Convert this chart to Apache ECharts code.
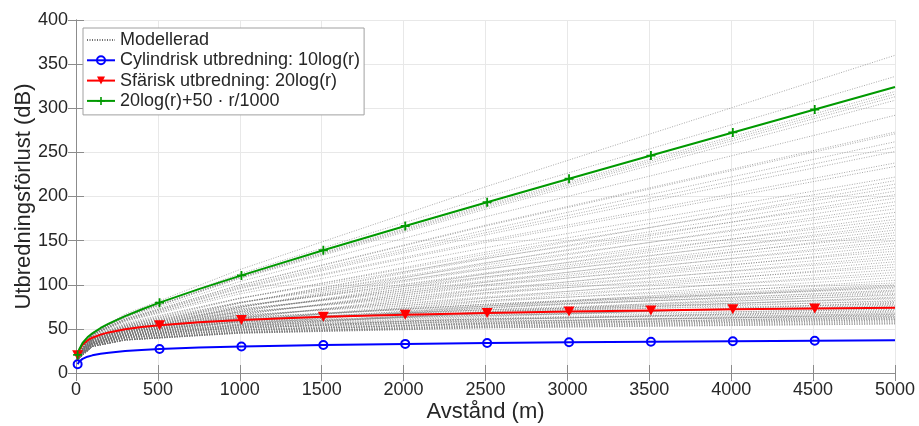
<!DOCTYPE html>
<html><head><meta charset="utf-8">
<script src="https://cdn.jsdelivr.net/npm/echarts@6/dist/echarts.min.js"></script>
<style>html,body{margin:0;padding:0;background:#fff}#c{width:919px;height:426px}</style>
</head><body><div id="c"></div>
<script>
// Distance samples (m) for the three reference curves
const curveX = [10, 20, 40, 70, 100, 150, 200, 300, 400, 510, 750, 1010, 1510, 2010, 2510, 3010, 3510, 4010, 4510, 5000];
const cylindricalY = [10, 13.0, 16.0, 18.5, 20, 21.8, 23.0, 24.8, 26.0, 27.1, 28.8, 30.0, 31.8, 33.0, 34.0, 34.8, 35.5, 36.0, 36.5, 37.0];
const sphericalY = [20, 26.0, 32.0, 36.9, 40, 43.5, 46.0, 49.5, 52.0, 54.2, 57.5, 60.1, 63.6, 66.1, 68.0, 69.6, 70.9, 72.1, 73.1, 74.0];
const absorptionY = [20.5, 27.0, 34.0, 40.4, 45.0, 51.0, 56.0, 64.5, 72.0, 79.7, 95.0, 110.6, 139.1, 166.6, 193.5, 220.1, 246.4, 272.6, 298.6, 324.0];
const markerX = [10, 510, 1010, 1510, 2010, 2510, 3010, 3510, 4010, 4510];

// Modelled curves (grey), sampled at modelX
const modelX = [10, 100, 300, 1000, 2500, 5000];
const modelLines = [
  [20.6, 45.7, 66.7, 117.2, 211.0, 360],
  [20.5, 45.2, 65.2, 112.4, 199.0, 336],
  [20.5, 44.9, 64.2, 109.0, 190.5, 319],
  [20.5, 44.8, 64.0, 108.4, 189.0, 316],
  [20.5, 44.8, 63.8, 107.8, 187.5, 313],
  [20.5, 44.7, 63.6, 107.0, 185.5, 309],
  [20.4, 44.4, 62.6, 103.6, 177.0, 292],
  [20.4, 44.0, 61.4, 99.8, 167.5, 273],
  [20.4, 43.9, 61.3, 99.4, 166.5, 271],
  [20.4, 43.8, 60.8, 97.6, 162.0, 262],
  [20.4, 43.6, 60.4, 96.4, 159.0, 256],
  [20.4, 43.5, 60.1, 95.4, 156.5, 251],
  [20.3, 43.3, 59.3, 92.8, 150.0, 238],
  [20.3, 43.2, 59.1, 92.0, 148.0, 234],
  [20.3, 43.0, 58.4, 89.6, 142.0, 222],
  [18.3, 39.0, 53.7, 84.3, 136.9, 218],
  [16.3, 35.1, 48.9, 79.0, 131.8, 214],
  [19.3, 40.8, 55.5, 84.9, 134.5, 210],
  [17.3, 36.9, 50.7, 79.6, 129.4, 206],
  [15.3, 32.9, 46.0, 74.3, 124.3, 202],
  [20.2, 42.5, 56.9, 84.8, 130.0, 198],
  [18.3, 38.5, 52.2, 79.5, 124.9, 194],
  [16.3, 34.6, 47.4, 74.2, 119.8, 190],
  [19.2, 40.3, 54.0, 80.1, 122.5, 186],
  [17.2, 36.4, 49.2, 74.8, 117.4, 182],
  [15.2, 32.5, 44.6, 69.5, 112.3, 178],
  [20.2, 42.0, 55.5, 80.0, 118.0, 174],
  [18.2, 38.1, 50.9, 74.9, 113.4, 171],
  [16.2, 34.2, 46.1, 69.8, 108.8, 168],
  [19.2, 39.9, 52.8, 75.9, 112.0, 165],
  [17.2, 36.0, 48.0, 70.8, 107.4, 162],
  [15.2, 32.1, 43.4, 65.7, 102.8, 159],
  [20.2, 41.6, 54.4, 76.4, 109.0, 156],
  [18.2, 37.7, 49.8, 71.3, 104.4, 153],
  [16.2, 33.8, 45.0, 66.2, 99.8, 150],
  [19.2, 39.5, 51.7, 72.3, 103.0, 147],
  [17.2, 35.6, 47.0, 67.2, 98.4, 144],
  [15.2, 31.7, 42.3, 62.1, 93.8, 141],
  [20.1, 41.3, 53.3, 72.8, 100.0, 138],
  [18.1, 37.4, 48.7, 67.7, 95.4, 135],
  [16.1, 33.5, 44.0, 62.6, 90.8, 132],
  [19.1, 39.2, 50.6, 68.7, 94.0, 129],
  [17.1, 35.3, 45.9, 63.6, 89.4, 126],
  [15.1, 31.4, 41.3, 58.5, 84.8, 123],
  [20.1, 40.9, 52.3, 69.2, 91.0, 120],
  [18.1, 37.0, 47.6, 64.1, 86.4, 117],
  [16.1, 33.1, 42.9, 59.0, 81.8, 114],
  [19.1, 38.8, 49.5, 65.1, 85.0, 111],
  [17.1, 34.9, 44.8, 60.0, 80.4, 108],
  [15.1, 31.0, 40.2, 54.9, 75.8, 105],
  [20.1, 40.6, 51.2, 65.6, 82.0, 102],
  [18.1, 36.7, 46.6, 60.7, 77.9, 100],
  [17.1, 34.7, 44.3, 58.2, 75.9, 99],
  [16.1, 32.8, 41.9, 55.8, 73.8, 98],
  [19.1, 38.5, 48.7, 62.3, 78.0, 97],
  [19.1, 38.5, 48.6, 62.1, 77.5, 96],
  [17.1, 34.6, 44.0, 57.2, 73.4, 94],
  [18.1, 36.5, 46.2, 59.3, 74.4, 93],
  [15.1, 30.7, 39.4, 52.3, 69.3, 92],
  [20.0, 40.3, 50.5, 63.2, 76.0, 90],
  [16.1, 32.6, 41.4, 54.0, 69.3, 89],
  [18.0, 36.4, 45.9, 58.3, 71.9, 88],
  [16.1, 32.5, 41.2, 53.4, 67.8, 86],
  [17.0, 34.4, 43.4, 55.4, 68.9, 85],
  [19.0, 38.3, 47.9, 59.7, 71.5, 84],
  [17.0, 34.4, 43.2, 54.8, 67.4, 82],
  [20.0, 40.1, 49.9, 61.4, 71.5, 81],
  [15.0, 30.5, 38.7, 49.9, 63.3, 80],
  [16.0, 32.4, 40.8, 52.0, 64.3, 79],
  [20.0, 40.1, 49.7, 60.8, 70.0, 78],
  [17.0, 34.3, 42.9, 53.8, 64.9, 77],
  [18.0, 36.2, 45.2, 55.9, 65.9, 76],
  [19.0, 38.1, 47.4, 57.9, 67.0, 75],
  [16.0, 32.3, 40.5, 51.0, 61.8, 74],
  [15.0, 30.4, 38.3, 48.5, 59.8, 73],
  [19.0, 38.0, 47.2, 57.3, 65.5, 72],
  [16.0, 32.2, 40.3, 50.4, 60.3, 71],
  [17.0, 34.1, 42.5, 52.4, 61.4, 70],
  [17.0, 34.1, 42.5, 52.2, 60.9, 69],
  [15.0, 30.3, 38.0, 47.5, 57.3, 68],
  [18.0, 36.0, 44.6, 54.1, 61.4, 67],
  [15.0, 30.2, 37.9, 47.2, 56.5, 66.5],
  [16.0, 32.1, 40.0, 49.4, 57.8, 66],
  [17.0, 34.0, 42.2, 51.4, 58.9, 65],
  [17.0, 34.0, 42.2, 51.3, 58.6, 64.5],
  [15.0, 30.2, 37.7, 46.7, 55.3, 64],
  [16.0, 32.1, 39.8, 48.8, 56.3, 63],
  [16.0, 32.1, 39.8, 48.7, 56.1, 62.5],
  [15.0, 30.1, 37.6, 46.3, 54.3, 62],
  [16.0, 32.0, 39.7, 48.4, 55.3, 61],
  [15.0, 30.1, 37.5, 46.0, 53.5, 60.5],
  [15.0, 30.1, 37.5, 45.9, 53.3, 60],
  [15.0, 30.1, 37.4, 45.7, 52.8, 59],
  [15.0, 30.1, 37.4, 45.5, 52.3, 58],
  [15.0, 30.0, 37.3, 45.3, 51.8, 57],
  [15.0, 30.0, 37.2, 45.1, 51.3, 56],
  [15.0, 30.0, 37.2, 45.0, 51.0, 55.5]
];

const legendNames = ['Modellerad', 'Cylindrisk utbredning: 10log(r)', 'Sfärisk utbredning: 20log(r)', '20log(r)+50 · r/1000'];
const xAxisTitle = 'Avstånd (m)';
const yAxisTitle = 'Utbredningsförlust (dB)';

const FONT = '"Liberation Sans", Arial, Helvetica, sans-serif';
const TXT = '#262626';
const AXC = '#8c8c8c';
const GRIDC = '#e8e8e8';

function withMarkers(ys) {
  return curveX.map((x, i) => markerX.indexOf(x) >= 0 ? [x, ys[i]] : { value: [x, ys[i]], symbol: 'none' });
}

const series = [];
modelLines.forEach(line => {
  series.push({
    type: 'line', name: legendNames[0], xAxisIndex: 0, yAxisIndex: 0,
    data: modelX.map((x, i) => [x, line[i]]),
    symbol: 'none', silent: true, z: 1,
    itemStyle: { color: '#9a9a9a' },
    lineStyle: { color: '#6e6e6e', width: 0.6, type: [1, 1.5] }
  });
});
series.push({
  type: 'line', name: legendNames[1], data: withMarkers(cylindricalY), z: 5,
  symbol: 'circle', symbolSize: 8, showAllSymbol: true,
  lineStyle: { color: '#0000ff', width: 2 },
  itemStyle: { color: 'rgba(255,255,255,0)', borderColor: '#0000ff', borderWidth: 2 }
});
series.push({
  type: 'line', name: legendNames[2], data: withMarkers(sphericalY), z: 5,
  symbol: 'triangle', symbolRotate: 180, symbolSize: [11, 10], showAllSymbol: true,
  lineStyle: { color: '#ff0000', width: 2 },
  itemStyle: { color: '#ff0000' }
});
series.push({
  type: 'line', name: legendNames[3], data: withMarkers(absorptionY), z: 5,
  symbol: 'path://M4,0 H6 V4 H10 V6 H6 V10 H4 V6 H0 V4 H4 Z', symbolSize: 9, showAllSymbol: true,
  lineStyle: { color: '#009900', width: 2 },
  itemStyle: { color: '#009900' }
});

const axisLabelStyle = { color: TXT, fontFamily: FONT, fontSize: 18, formatter: v => String(v) };

const option = {
  animation: false,
  backgroundColor: '#fff',
  grid: { left: 76, right: 24, top: 20, bottom: 53, containLabel: false, outerBoundsMode: 'none' },
  legend: {
    data: [
      { name: legendNames[0], itemStyle: { opacity: 0 } },
      { name: legendNames[1] },
      { name: legendNames[2] },
      { name: legendNames[3] }
    ],
    orient: 'vertical', left: 83, top: 28,
    itemWidth: 28, itemHeight: 10, itemGap: 2.3,
    padding: [3, 4, 5, 3],
    backgroundColor: '#fff', borderColor: '#a0a0a0', borderWidth: 1,
    textStyle: { color: TXT, fontFamily: FONT, fontSize: 18, lineHeight: 18 },
    selectedMode: false
  },
  xAxis: [{
    type: 'value', min: 0, max: 5000, interval: 500, position: 'bottom',
    name: xAxisTitle, nameLocation: 'middle', nameGap: 28, nameMoveOverlap: false,
    nameTextStyle: { color: TXT, fontFamily: FONT, fontSize: 22, verticalAlign: 'top' },
    axisLine: { show: true, lineStyle: { color: AXC, width: 1 } },
    axisTick: { show: true, inside: true, length: 8, lineStyle: { color: AXC } },
    axisLabel: Object.assign({ margin: 8 }, axisLabelStyle),
    splitLine: { show: true, lineStyle: { color: GRIDC, width: 1 } }
  }, {
    type: 'value', min: 0, max: 5000, interval: 500, position: 'top',
    axisLine: { show: true, lineStyle: { color: AXC, width: 1 } },
    axisTick: { show: true, inside: true, length: 8, lineStyle: { color: AXC } },
    axisLabel: { show: false }, splitLine: { show: false }
  }],
  yAxis: [{
    type: 'value', min: 0, max: 400, interval: 50, position: 'left',
    name: yAxisTitle, nameLocation: 'middle', nameGap: 41, nameMoveOverlap: false,
    nameTextStyle: { color: TXT, fontFamily: FONT, fontSize: 22 },
    axisLine: { show: true, lineStyle: { color: AXC, width: 1 } },
    axisTick: { show: true, inside: true, length: 8, lineStyle: { color: AXC } },
    axisLabel: Object.assign({ margin: 8 }, axisLabelStyle),
    splitLine: { show: true, lineStyle: { color: GRIDC, width: 1 } }
  }, {
    type: 'value', min: 0, max: 400, interval: 50, position: 'right',
    axisLine: { show: true, lineStyle: { color: AXC, width: 1 } },
    axisTick: { show: true, inside: true, length: 8, lineStyle: { color: AXC } },
    axisLabel: { show: false }, splitLine: { show: false }
  }],
  series: series
};

const chart = echarts.init(document.getElementById('c'), null, { renderer: 'canvas' });
chart.setOption(option);
</script>
</body></html>
